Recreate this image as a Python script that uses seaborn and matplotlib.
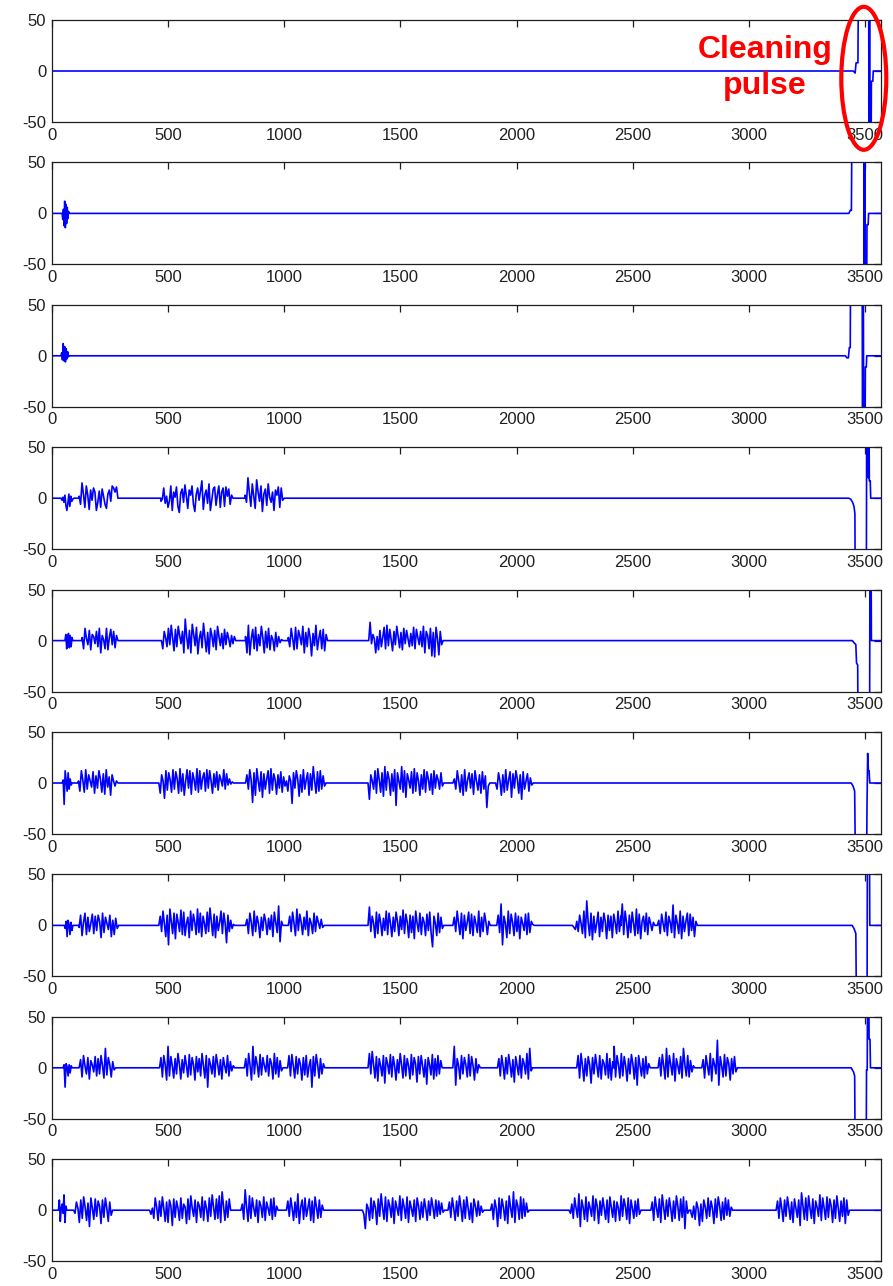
import numpy as np
import pandas as pd
import matplotlib
matplotlib.use("Agg")
import matplotlib.pyplot as plt
import seaborn as sns
from matplotlib.patches import Ellipse

# ---------------------------------------------------------------------------
# Recorded traces: each burst is (start sample, end sample, values),
# each cleaning pulse is a list of (sample, value) breakpoints.
# ---------------------------------------------------------------------------
X_END = 3567
X_TICKS = [0, 500, 1000, 1500, 2000, 2500, 3000, 3500]
Y_TICKS = [-50, 0, 50]
Y_TICK_LABELS = ["-50", "0", "50"]

BURSTS_1 = []
PULSE_1 = [(3449, 0), (3457, -2), (3461, 8), (3469, 8), (3472, 120), (3515, 120),
           (3517, -120), (3519, 120), (3521, -120), (3525, -120), (3527, -10),
           (3533, -10), (3535, 0)]

BURSTS_2 = [(45, 75, [0, -6, 4, -12, 12, -14, 9, -10, 6, -5, 2, 0])]
PULSE_2 = [(3430, 0), (3436, 3), (3441, 3), (3444, 120), (3494, 120), (3496, -120),
           (3499, 120), (3501, -120), (3506, -120), (3508, -11), (3513, -11), (3515, 0)]

BURSTS_3 = [(40, 75, [0, 3, -4, 12, -5, 9, -6, 7, -3, 4, -1, 0])]
PULSE_3 = [(3415, 0), (3422, -2), (3428, -2), (3432, 8), (3436, 8), (3438, 120),
           (3487, 120), (3489, -120), (3492, 120), (3494, -120), (3499, -120),
           (3501, -11), (3505, -11), (3507, 0)]

BURSTS_4 = [
    (40, 95, [0, -2, 1, -4, 3, -7, -12, -5, 4, -8, 2, -3, -1, 0]),
    (118, 285, [2, -6, 15, 4, -9, 12, 3, -11, 8, -2, 10, 6, -12, -4, 7, -9, 9, 2, -6,
                -10, 4, 8, -3, 12, 10, 6, 11, 0]),
    (470, 780, [-3, -1, 10, -5, 2, -9, -3, 12, -12, 6, 1, 11, -8, -14, 5, 9, -4, 13, 2,
                -10, 8, 3, 12, -6, -13, 4, 10, -2, 7, 17, -11, 3, 8, -5, 14, -12, -2, 9,
                11, -7, 4, 12, -9, 6, 10, -8, 11, 2, 9, -6, 3, 0]),
    (832, 1000, [3, -4, 20, 5, -8, 14, 2, -10, 18, 6, -3, 12, -13, 4, 9, -7, 14, 1, -4,
                 6, -12, 8, 3, 11, -9, 10, -2, 0]),
]
PULSE_4 = [(3430, 0), (3438, -1), (3446, -4), (3452, -8), (3456, -15), (3458, -120),
           (3505, -120), (3507, 120), (3512, 120), (3514, 20), (3516, 120), (3518, 17),
           (3522, 17), (3524, 0)]

BURSTS_5 = [
    (57, 91, [0, 6, -8, 2, 7, -7, 5, -6, 3, 0]),
    (131, 285, [3, -8, 12, 2, -4, 10, -9, 6, 4, -3, 9, -6, 12, -12, 5, 1, -8, 12, -9, 3,
                11, -4, 9, -7, 5, 0]),
    (472, 792, [0, -8, 9, 3, -6, 12, -4, 15, 2, -10, 11, -6, 14, 5, -3, 9, -12, 21, 4,
                -8, 10, -12, 16, 6, -5, 13, -13, 2, 9, -7, 17, 3, -11, 8, -13, 12, 5, -6,
                10, -9, 14, 4, -5, 7, -8, 11, -4, 8, 2, -6, 5, -3, 4, 0]),
    (834, 995, [4, -12, 15, -14, 2, 11, -8, 13, -10, 6, -5, 14, 3, -12, 9, -7, 12, -9, 5,
                1, -10, 8, -6, 4, -2, 1, 0]),
    (1018, 1187, [3, -6, 12, 2, -9, 13, -8, 10, 4, -4, 14, -12, 8, -6, 12, 3, -15, 7, -5,
                  15, -9, 2, 10, -8, 11, -10, 6, 0]),
    (1364, 1684, [0, 18, -3, 6, 2, -12, 4, -9, 10, -6, 3, 13, -8, 15, -5, 11, 1, -10, 9,
                  -4, 14, 4, -7, 8, -9, 12, -3, 10, 2, -6, 7, -5, 13, -8, 11, 3, -4, 9,
                  -6, 14, -12, 9, 5, -8, 12, -15, 8, -16, 13, 2, -14, 9, -4, 0]),
]
PULSE_5 = [(3445, 0), (3452, -2), (3460, -4), (3463, -22), (3468, -24), (3470, -120),
           (3519, -120), (3521, 120), (3523, 60), (3525, 120), (3527, 0)]

BURSTS_6 = [
    (45, 88, [0, 3, -21, 12, 2, -8, 10, -6, 4, -2, 0]),
    (115, 285, [2, -8, 12, 3, -9, 13, -6, 8, 2, -4, 11, -10, 7, -5, 12, 4, -9, 9, -11,
                13, -4, 6, -12, 8, 2, -3, 2, 0]),
    (461, 783, [0, -10, 8, 2, -15, 12, -7, 10, 3, -9, 13, -6, 11, 4, -10, 14, -8, 9, -12,
                2, 13, -5, 12, -11, 10, 3, -7, 14, -9, 12, -6, 5, 10, -8, 13, -5, 12, 2,
                -10, 9, -4, 11, -7, 8, 3, -3, 13, -6, 9, -2, 4, -1, 1, 0]),
    (834, 1180, [0, 8, -6, 13, 3, -19, 10, -12, 14, 2, -8, 11, -14, 9, -6, 4, 12, -10,
                 14, -7, 9, 3, -11, 8, -5, 11, -9, 6, -3, 2, -8, 7, 2, -20, 10, -5, 12,
                 4, -13, 8, -9, 13, -6, 3, 10, -12, 9, -7, 16, 2, -10, 11, -8, 12, -6, 7,
                 -3, 0]),
    (1361, 1687, [0, -16, 8, 2, -6, 12, -10, 14, 3, -9, 10, -13, 16, -7, 11, 4, -12, 9,
                  -8, 13, -22, 10, 2, -6, 16, -9, 12, -14, 9, 3, -5, 11, -10, 14, -8, 10,
                  2, -12, 8, -6, 13, -9, 11, 4, -7, 9, -11, 12, -5, 8, 3, -6, 10, -3,
                  0]),
    (1726, 1885, [0, 4, -6, 12, 2, -9, 8, -12, 13, -8, 3, 10, -5, 9, -11, 12, 2, -7, 8,
                  -10, 11, -6, 7, -24, -3, 0]),
    (1910, 2072, [0, -6, 10, 2, -12, 8, -9, 13, -7, 3, 11, -14, 9, -5, 12, 4, -10, 8,
                  -16, 11, -6, 2, 9, -8, 5, -2, 0]),
]
PULSE_6 = [(3440, 0), (3448, -3), (3455, -8), (3460, -120), (3505, -120), (3508, -24),
           (3511, 29), (3514, 12), (3517, 12), (3520, 0)]

BURSTS_7 = [
    (54, 91, [0, -3, 4, -11, 5, 1, -9, 3, -5, 0]),
    (118, 288, [-2, 10, -10, 3, 12, -9, 8, -6, 2, 11, -8, 9, -5, 10, 4, -12, 12, -7, 8,
                2, -4, 10, -11, 5, -9, 7, -3, 0]),
    (461, 788, [0, 9, -6, 14, 2, -11, 10, -19, 16, 4, -8, 12, -13, 11, 3, -6, 15, -9, 13,
                -10, 2, 8, -12, 14, -5, 11, 3, -9, 16, -7, 12, -11, 9, 2, -8, 13, -6, 17,
                4, -10, 11, -12, 9, -5, 3, 14, -8, 12, 2, -17, 10, -6, 5, -3, 1, 0]),
    (834, 995, [0, 6, -8, 12, 3, -10, 14, -6, 9, 2, -12, 8, -5, 11, 4, -9, 7, -4, 10,
                -11, 13, 3, -7, 19, -16, 4, 0]),
    (1018, 1172, [0, 9, -6, 13, 2, -10, 16, -5, 11, 3, -9, 8, -4, 14, -10, 7, 2, -8, 12,
                  -6, 9, 3, -3, 6, -2, 0]),
    (1361, 1687, [0, 18, -6, 9, 2, -12, 13, -8, 11, 3, -10, 7, -5, 14, -9, 12, 2, -11, 8,
                  -6, 13, 4, -10, 9, -4, 15, -8, 11, 3, -12, 10, -7, 9, -13, 14, 2, -6,
                  12, -9, 8, 3, -10, 11, -5, 13, -8, -21, 9, 2, -10, 12, -7, 8, -3, 0]),
    (1726, 1887, [0, 8, -6, 14, 2, -9, 12, -13, 10, -5, 3, 13, -8, 11, -10, 9, 2, -7, 14,
                  -11, 8, -6, 12, 3, -9, 4, 0]),
    (1915, 2076, [0, 10, -7, 21, -19, 9, 2, -12, 14, -8, 11, 3, -10, 12, -6, 9, -13, 8,
                  2, -5, 11, -9, 12, -7, 4, 1, 0]),
    (2241, 2449, [0, -2, -4, 4, -6, 10, 2, -8, 14, -12, 24, 3, -10, 12, -14, 9, -7, 2,
                  13, -11, 8, -6, 12, 4, -13, 10, -5, 9, -12, 11, 3, -8, 14, -6, 9]),
    (2449, 2595, [2, 21, -9, 14, 3, -12, 10, -7, 13, 2, -10, 16, -8, 11, -13, 4, 9, -6,
                  12, -9, 8, 2, -5, 3, 0]),
    (2606, 2778, [0, 5, -8, 11, 2, -6, 13, -10, 9, 3, -7, 20, -12, 10, 2, -8, 14, -13, 9,
                  -6, 4, 12, -10, 11, -5, 8, -11, 4, 0]),
]
PULSE_7 = [(3444, 0), (3452, -3), (3460, -8), (3464, -120), (3508, -120), (3510, 120),
           (3513, 60), (3515, 120), (3518, 120), (3520, 0)]

BURSTS_8 = [
    (49, 88, [0, 3, -19, 4, 1, -8, 3, -5, 2, 0]),
    (118, 275, [0, 8, -9, 12, 2, -6, 10, -11, 7, 3, -4, 11, -8, 9, -6, 12, 2, -10, 19,
                -7, 10, 3, -9, 6, -2, 0]),
    (464, 787, [0, 10, -9, 12, 3, -12, 21, -8, 11, 2, -10, 9, -6, 14, 4, -11, 8, -5, 12,
                2, -9, 13, -7, 10, 3, -12, 11, -4, 9, -8, 14, 2, -10, 12, -19, 9, 3, -6,
                11, -9, 13, 4, -7, 8, -11, 10, 2, -5, 12, -8, 6, -3, 2, 0]),
    (829, 995, [0, 9, -8, 14, 2, -12, 21, -6, 11, 3, -9, 13, -7, 10, 2, -4, 12, -8, 9,
                4, -11, 14, -6, 10, -9, 7, -3, 0]),
    (1015, 1175, [0, 12, -8, 13, 2, -10, 11, -6, 9, 3, -12, 10, -7, 12, -9, 2, 8, -19,
                  11, -8, 13, 3, -10, 9, -6, 4, 0]),
    (1361, 1680, [0, 14, -6, 16, 3, -10, 11, -13, 9, 2, -8, 12, -15, 10, 4, -6, 13, -9,
                  11, 2, -12, 8, -5, 14, 3, -10, 12, -8, 9, 2, -11, 13, -7, 10, 4, -14,
                  11, -6, 12, 2, -9, 8, -16, 10, 3, -7, 13, -11, 9, -8, 12, -6, 7, 0]),
    (1726, 1844, [0, 21, -17, 9, 2, -11, 12, -6, 10, 3, -9, 13, -8, 11, 2, -12, 9, -5, 3,
                  0]),
    (1918, 2069, [0, 9, -8, 12, 2, -11, 10, -6, 13, 3, -9, 8, -14, 11, 2, -7, 12, -10, 9,
                  4, -6, 14, -11, 19, -3, 0]),
    (2259, 2420, [0, 12, -10, 14, 2, -13, 9, -8, 11, 3, -15, 10, -6, 13, 2, -9, 12, -11,
                  8, 4, -7, 14, -10, 9, -12, 6, 2]),
    (2420, 2575, [21, -9, 12, 3, -10, 14, -8, 11, 2, -13, 9, -6, 13, 4, -11, 10, -17, 12,
                  2, -8, 9, -10, 11, -6, 4, 0]),
    (2609, 2767, [0, 10, -8, 13, 2, -11, 19, -9, 12, 3, -7, 14, -13, 9, 2, -6, 11, -10,
                  19, 3, -8, 12, -9, 7, -4, 2, 0]),
    (2797, 2950, [0, 8, -10, 12, 2, -7, 14, -13, 9, 3, -6, 27, -17, 11, 2, -9, 13, -8,
                  10, 4, -12, 9, -6, 11, -4, 0]),
]
PULSE_8 = [(3440, 0), (3450, -4), (3455, -8), (3458, -120), (3504, -120), (3506, -2),
           (3509, -2), (3511, 120), (3515, 120), (3517, 28), (3521, 28), (3523, 0)]

BURSTS_9 = [
    (29, 65, [0, 10, -11, 2, 6, -3, 15, -12, 4, 0]),
    (94, 262, [0, -3, 8, 2, -12, 10, -8, 13, 3, -10, 7, -16, 12, 2, -9, 11, -6, 9, 4,
               -13, 10, -7, 12, 2, -11, 8, -5, 0]),
    (421, 770, [0, -4, 2, -8, 12, 3, -10, 9, -6, 13, 2, -11, 8, -12, 10, 4, -15, 11, -7,
                9, 2, -10, 12, -8, 6, 3, -13, 11, -9, 14, 2, -6, 10, -12, 8, 4, -7, 13,
                -10, 9, 2, -11, 12, -6, 15, 3, -9, 11, -8, 14, -12, 18, 4, -10, 9, -7,
                11, 0]),
    (814, 974, [0, 6, -9, 20, 3, -11, 14, -8, 12, 2, -6, 10, -12, 9, 4, -7, 13, -10, 8,
                2, -5, 11, -9, 12, -6, 4, 0]),
    (1010, 1170, [0, 9, -6, 12, 2, -10, 8, -7, 16, -13, 3, 10, -9, 12, -6, 2, 11, -10, 9,
                  -12, 13, 3, -8, 10, -7, 5, 0]),
    (1337, 1690, [0, -4, -18, 6, 2, -10, 12, -8, 9, 3, -14, 11, -6, 16, 2, -9, 13, -11,
                  10, 4, -7, 12, -13, 9, 2, -5, 14, -10, 11, 3, -8, 13, -12, 9, 2, -6,
                  10, -11, 12, 4, -9, 8, -7, 11, 2, -10, 9, -5, 12, 3, -8, 10, -6, 9, -4,
                  7, -2, 0]),
    (1705, 1860, [0, 8, -7, 12, 2, -10, 9, -6, 14, 3, -11, 10, -8, 13, 2, -9, 7, -12, 11,
                  4, -6, 9, -5, 4, -2, 0]),
    (1888, 2055, [0, 6, -9, 10, 2, -16, 12, -8, 11, 3, -10, 9, -13, 14, 2, -7, 18, -12,
                  10, 4, -9, 13, -8, 11, -6, 7, -2, 0]),
    (2226, 2535, [0, -3, 6, -8, 12, 2, -7, 16, -16, 10, 3, -9, 13, -11, 8, 2, -6, 14,
                  -10, 11, 4, -13, 9, -5, 12, 2, -9, 10, -12, 13, 3, -7, 9, -11, 8, 2,
                  -10, 14, -6, 11, 4, -9, 12, -13, 10, 2, -8, 9, -6, 11, -4, 0]),
    (2578, 2743, [0, 8, -10, 13, 2, -7, 11, -12, 15, 3, -9, 10, -6, 12, 2, -11, 9, -8,
                  14, 4, -10, 11, -7, 13, -18, 9, -3, 0]),
    (2750, 2930, [-2, -7, 4, -9, 8, 2, -15, 6, -11, 10, 3, -8, 12, -6, 9, 2, -13, 11, -7,
                  13, 4, -10, 8, -9, 12, -5, 10, -6, 3, 0]),
    (3117, 3433, [0, 9, -8, 12, 2, -11, 10, -6, 13, 3, -9, 8, -12, 11, 2, -7, 10, -15,
                  17, 4, -9, 12, -10, 14, 2, -8, 11, -13, 9, 3, -6, 15, -10, 12, 2, -9,
                  13, -7, 11, 4, -12, 10, -8, 14, 2, -11, 9, -6, 12, -13, 10, -5, 0]),
]
PULSE_9 = []

PANELS = [
    (BURSTS_1, PULSE_1), (BURSTS_2, PULSE_2), (BURSTS_3, PULSE_3),
    (BURSTS_4, PULSE_4), (BURSTS_5, PULSE_5), (BURSTS_6, PULSE_6),
    (BURSTS_7, PULSE_7), (BURSTS_8, PULSE_8), (BURSTS_9, PULSE_9),
]

ANNOTATION = ["Cleaning", "pulse"]


def build_trace(bursts, pulse):
    """Assemble one channel: zero baseline, bursts, then the cleaning pulse."""
    xs, ys = [0.0], [0.0]
    for start, end, vals in bursts:
        xs.append(start)
        ys.append(0.0)
        xs.extend(np.linspace(start, end, len(vals)))
        ys.extend(vals)
        xs.append(end)
        ys.append(0.0)
    for px, py in pulse:
        xs.append(px)
        ys.append(py)
    xs.append(X_END)
    ys.append(0.0)
    return pd.DataFrame({"sample": xs, "amplitude": ys})


sns.set_style("white")
plt.rcParams["font.family"] = ["Liberation Sans", "DejaVu Sans"]
plt.rcParams["axes.unicode_minus"] = False

W, H = 893, 1286
fig = plt.figure(figsize=(W / 100, H / 100), dpi=100)

AX_LEFT, AX_RIGHT = 51.7, 880.7
AX_TOP0, AX_STEP, AX_H = 20.0, 142.4, 102.0
EDGE = "#1e1e1e"

for i, (bursts, pulse) in enumerate(PANELS):
    top = AX_TOP0 + AX_STEP * i
    ax = fig.add_axes([AX_LEFT / W, 1 - (top + AX_H) / H,
                       (AX_RIGHT - AX_LEFT) / W, AX_H / H])
    df = build_trace(bursts, pulse)
    sns.lineplot(data=df, x="sample", y="amplitude", ax=ax, estimator=None,
                 sort=False, color="#0000ff", linewidth=1.2)
    ax.set_xlim(0, X_END)
    ax.set_ylim(-50, 50)
    ax.set_xticks(X_TICKS)
    ax.set_xticklabels([str(t) for t in X_TICKS])
    ax.set_yticks(Y_TICKS)
    ax.set_yticklabels(Y_TICK_LABELS)
    ax.set_xlabel("")
    ax.set_ylabel("")
    ax.tick_params(direction="in", top=True, right=True, length=5, width=0.9,
                   labelsize=12, pad=4, color=EDGE, labelcolor="#202020")
    for sp in ax.spines.values():
        sp.set_color(EDGE)
        sp.set_linewidth(0.9)

# Cleaning-pulse callout on the first channel
fig.text(765 / W, 1 - 58 / H, ANNOTATION[0], ha="center", va="baseline",
         color="#ff0000", fontsize=23, fontweight="bold")
fig.text(765 / W, 1 - 94 / H, ANNOTATION[1], ha="center", va="baseline",
         color="#ff0000", fontsize=23, fontweight="bold")
fig.add_artist(Ellipse((863.8 / W, 1 - 78.3 / H), 45 / W, 143 / H,
                       transform=fig.transFigure, fill=False,
                       edgecolor="#ff0000", linewidth=3, clip_on=False))

fig.savefig("out.png", dpi=100)
